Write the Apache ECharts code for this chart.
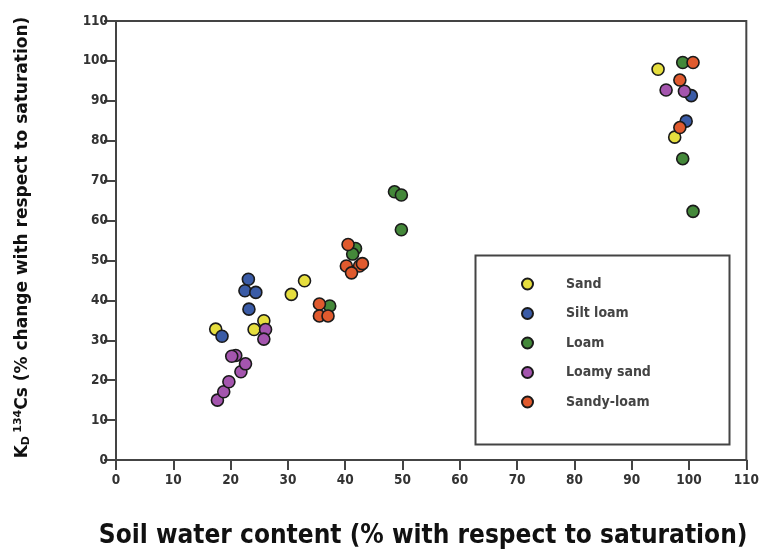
<!DOCTYPE html>
<html><head><meta charset="utf-8">
<script src="https://cdn.jsdelivr.net/npm/echarts@6/dist/echarts.min.js"></script>
<style>html,body{margin:0;padding:0;background:#fff}#c{width:762px;height:554px}</style>
</head><body><div id="c"></div>
<script>
const seriesNames = ['Sand', 'Silt loam', 'Loam', 'Loamy sand', 'Sandy-loam'];
const seriesColors = ['#e6de3e', '#3a5ba6', '#44883a', '#a455ae', '#e05a2e'];
const xTicks = [0,10,20,30,40,50,60,70,80,90,100,110];
const yTicks = [0,10,20,30,40,50,60,70,80,90,100,110];

const sand = [[17.4,32.8],[24.1,32.7],[25.8,34.9],[30.6,41.5],[32.9,44.9],[94.6,97.9],[97.5,80.9]];
const siltLoam = [[18.5,31.0],[23.1,45.3],[22.5,42.4],[24.4,42.0],[23.2,37.8],[100.4,91.3],[99.5,84.9]];
const loam = [[37.3,38.6],[41.8,53.0],[41.3,51.6],[48.6,67.2],[49.8,66.4],[49.8,57.7],[98.9,99.6],[98.9,75.5],[100.7,62.3]];
const loamySand = [[17.7,15.0],[18.8,17.1],[19.7,19.6],[21.8,22.1],[22.6,24.1],[20.9,26.2],[20.2,26.0],[26.1,32.7],[25.8,30.3],[96.0,92.7],[99.2,92.4]];
const sandyLoam = [[35.5,39.1],[35.5,36.1],[37.0,36.1],[40.5,54.0],[40.2,48.6],[42.5,48.6],[41.1,46.9],[43.0,49.2],[100.7,99.6],[98.4,95.2],[98.4,83.3]];
const allData = [sand, siltLoam, loam, loamySand, sandyLoam];

const condensed = "'DejaVu Sans Condensed', 'Roboto Condensed', 'Liberation Sans Narrow', Roboto, sans-serif";
const chart = echarts.init(document.getElementById('c'), null, {renderer:'canvas'});
const tickFont = {fontFamily:condensed, fontWeight:'bold', fontSize:13.5, color:'#333'};
chart.setOption({
  animation:false,
  backgroundColor:'#fff',
  grid:{left:116, right:15, top:21, bottom:90, show:true, borderColor:'#444', borderWidth:2, backgroundColor:'transparent'},
  xAxis:{type:'value', min:0, max:110, interval:10,
    axisLine:{show:true, onZero:false, lineStyle:{color:'#444', width:2}},
    axisTick:{show:true, inside:false, length:10, lineStyle:{color:'#444', width:2}},
    axisLabel:Object.assign({margin:13, formatter:v=>xTicks.includes(v)?String(v):''}, tickFont),
    splitLine:{show:false},
    name:'Soil water content (% with respect to saturation)', nameLocation:'middle', nameGap:63,
    nameTextStyle:{fontFamily:condensed, fontWeight:'bold', fontSize:26, color:'#111', padding:[0,16,0,0]}
  },
  yAxis:{type:'value', min:0, max:110, interval:10,
    axisLine:{show:true, onZero:false, lineStyle:{color:'#444', width:2}},
    axisTick:{show:true, inside:false, length:12, lineStyle:{color:'#444', width:2}},
    axisLabel:Object.assign({margin:8, formatter:v=>yTicks.includes(v)?String(v):''}, tickFont),
    splitLine:{show:false},
    name:'{k|K}{d|D} {s|134}{k|Cs (% change with respect to saturation)}', nameLocation:'middle', nameGap:84, nameRotate:90,
    nameTextStyle:{padding:[0,0,0,6], rich:{
      k:{fontFamily:'DejaVu Sans', fontWeight:'bold', fontSize:17, color:'#111'},
      d:{fontFamily:'DejaVu Sans', fontWeight:'bold', fontSize:11, color:'#111', verticalAlign:'bottom', padding:[8,0,0,0]},
      s:{fontFamily:'DejaVu Sans', fontWeight:'bold', fontSize:11, color:'#111', verticalAlign:'top', padding:[0,0,8,0]}
    }}
  },
  legend:{orient:'vertical', left:516, top:272, itemGap:15.5, itemWidth:11, itemHeight:11,
    icon:'circle', textStyle:{fontFamily:condensed, fontWeight:'bold', fontSize:14, color:'#444', padding:[0,0,0,28]},
    data:seriesNames},
  graphic:[{type:'rect', left:473, top:253, shape:{width:254, height:189}, style:{fill:'none', stroke:'#444', lineWidth:2}, z:-1}],
  series: seriesNames.map((n,i)=>({
    name:n, type:'scatter', data:allData[i], symbol:'circle', symbolSize:12,
    itemStyle:{color:seriesColors[i], borderColor:'#1a1a1a', borderWidth:1.6, opacity:1}
  }))
});
</script></body></html>
